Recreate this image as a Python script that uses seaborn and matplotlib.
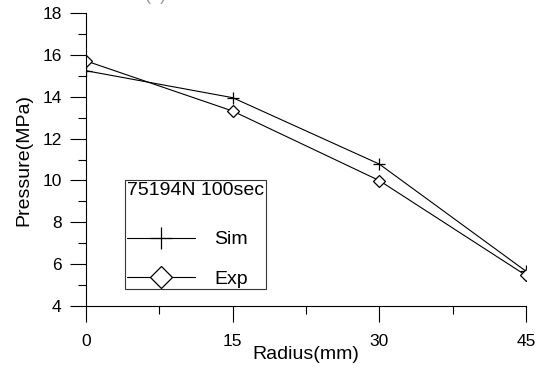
import matplotlib
matplotlib.use("Agg")
import matplotlib.pyplot as plt
import seaborn as sns
import pandas as pd
from matplotlib.ticker import MultipleLocator

radius = [0, 15, 30, 45]
sim_pressure = [15.25, 13.96, 10.78, 5.65]
exp_pressure = [15.72, 13.32, 9.99, 5.45]
series_names = ["Sim", "Exp"]
legend_title = "75194N 100sec"
x_label = "Radius(mm)"
y_label = "Pressure(MPa)"
x_ticks = [0, 15, 30, 45]
y_ticks = [4, 6, 8, 10, 12, 14, 16, 18]

sns.set_theme(style="white")
plt.rcParams["font.family"] = ["Liberation Sans", "DejaVu Sans"]
plt.rcParams["text.color"] = "black"

fig = plt.figure(figsize=(5.45, 3.78), dpi=100)
ax = fig.add_axes([86/545, 1-305.7/378, 440/545, 292.4/378])

df_sim = pd.DataFrame({"Radius": radius, "Pressure": sim_pressure})
df_exp = pd.DataFrame({"Radius": radius, "Pressure": exp_pressure})

sns.lineplot(data=df_sim, x="Radius", y="Pressure", ax=ax, color="black",
             linewidth=0.8, marker="+", markersize=9, mec="black", mew=0.9,
             label=series_names[0])
sns.lineplot(data=df_exp, x="Radius", y="Pressure", ax=ax, color="black",
             linewidth=0.8, marker="D", markersize=6.6, mec="black", mfc="white",
             mew=0.9, label=series_names[1])

ax.set_xlim(0, 45)
ax.set_ylim(4, 18)
ax.set_xticks(x_ticks)
ax.set_yticks(y_ticks)
ax.xaxis.set_minor_locator(MultipleLocator(7.5))
ax.yaxis.set_minor_locator(MultipleLocator(1))
for s in ["top", "right"]:
    ax.spines[s].set_visible(False)
for s in ["left", "bottom"]:
    ax.spines[s].set_color("black")
    ax.spines[s].set_linewidth(0.8)
ax.tick_params(axis="both", which="both", bottom=True, left=True, top=False, right=False)
ax.tick_params(axis="both", which="major", direction="out", length=11.5,
               width=0.8, color="black", labelsize=12.5, labelcolor="black")
ax.tick_params(axis="both", which="minor", direction="out", length=5.8,
               width=0.8, color="black")
ax.tick_params(axis="x", which="major", pad=9)
ax.tick_params(axis="y", which="major", pad=6)
ax.set_xlabel(x_label, fontsize=14, color="black", labelpad=-2.5)
ax.set_ylabel(y_label, fontsize=14, color="black", labelpad=7)
ax.grid(False)

leg = ax.legend(title=legend_title, loc="upper left",
                bbox_to_anchor=(125/545, 1-180/378), bbox_transform=fig.transFigure,
                frameon=True, fancybox=False, shadow=False, fontsize=14,
                title_fontsize=14, borderpad=0.1, borderaxespad=0,
                handlelength=3.5, handletextpad=1.0, labelspacing=1.1,
                markerscale=1.7, alignment="left")
leg._legend_box.sep = 23
leg.get_frame().set_edgecolor("black")
leg.get_frame().set_linewidth(0.8)
leg.get_title().set_color("black")
for t in leg.get_texts():
    t.set_color("black")

fig.text(156/545, 1-4/378, "(a)", color="#999999", fontsize=13, ha="center", va="bottom")

fig.savefig("out.png", dpi=100)
